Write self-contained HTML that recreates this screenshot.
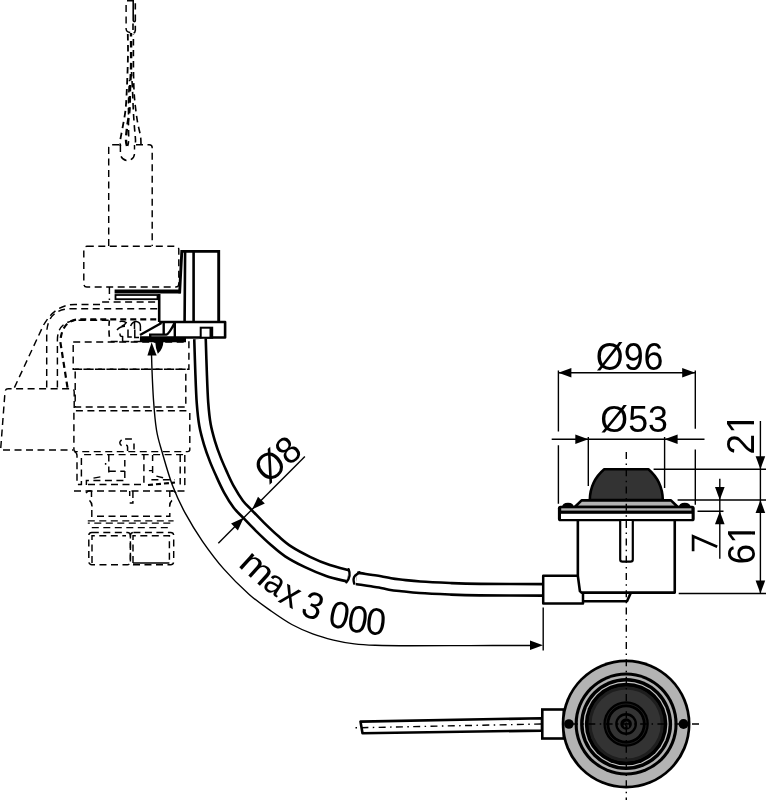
<!DOCTYPE html>
<html><head><meta charset="utf-8"><style>
html,body{margin:0;padding:0;background:#fff;}
svg{display:block;will-change:transform;}
text{font-family:"Liberation Sans",sans-serif;fill:#000;}
</style></head><body>
<svg width="766" height="800" viewBox="0 0 766 800">
<rect width="766" height="800" fill="#fff"/>
<path d="M126.1,5 V29 Q126.5,32.5 131,32.5" fill="none" stroke="#000" stroke-width="1.45" stroke-dasharray="7 4.5"/>
<path d="M133.2,1 V20.5 Q133.3,21.6 134.3,21.6 Q135.3,21.6 135.3,20.5 V14.5 M135.3,3.2 V9.5 M133,23.5 V30 M135.3,25.8 V30.5 Q135.2,32.4 133.6,33" fill="none" stroke="#000" stroke-width="1.6"/>
<path d="M127,0.5 H134" stroke="#000" stroke-width="2"/>
<path d="M127.8,34.0 C127.8,36.7 128.0,44.0 128.0,50.0 C128.0,56.0 127.8,63.3 127.6,70.0 C127.4,76.7 127.1,83.3 126.8,90.0 C126.5,96.7 126.2,103.7 125.5,110.0 C124.8,116.3 123.4,123.0 122.5,128.0 C121.6,133.0 120.7,137.0 120.3,140.0 C119.9,143.0 120.3,145.0 120.3,146.0" fill="none" stroke="#000" stroke-width="1.8" stroke-dasharray="6.5 4.5" stroke-dashoffset="0"/>
<path d="M131.0,33.0 C131.0,35.8 131.1,43.8 131.1,50.0 C131.1,56.2 131.2,63.3 131.0,70.0 C130.8,76.7 130.2,83.3 130.0,90.0 C129.8,96.7 130.0,103.7 129.5,110.0 C129.0,116.3 127.6,123.0 127.0,128.0 C126.4,133.0 126.0,137.0 126.0,140.0 C126.0,143.0 126.8,145.0 127.0,146.0" fill="none" stroke="#000" stroke-width="2.4" stroke-dasharray="6.5 4.5" stroke-dashoffset="3"/>
<path d="M133.4,34.0 C133.4,36.7 133.4,44.0 133.4,50.0 C133.4,56.0 133.4,63.3 133.5,70.0 C133.6,76.7 133.7,84.2 134.0,90.0 C134.3,95.8 134.6,99.7 135.2,105.0 C135.8,110.3 136.6,116.8 137.5,122.0 C138.4,127.2 139.9,132.2 140.5,136.0 C141.1,139.8 140.9,143.5 141.0,145.0" fill="none" stroke="#000" stroke-width="1.6" stroke-dasharray="6.5 4.5" stroke-dashoffset="6"/>
<path d="M131.5,72.0 C131.7,75.0 132.2,83.7 132.5,90.0 C132.8,96.3 133.0,103.7 133.3,110.0 C133.6,116.3 134.1,123.0 134.5,128.0 C134.9,133.0 135.4,137.0 135.5,140.0 C135.6,143.0 135.1,145.0 135.0,146.0" fill="none" stroke="#000" stroke-width="1.6" stroke-dasharray="6.5 4.5" stroke-dashoffset="2"/>
<path d="M129.5,80.0 C129.3,83.3 128.7,93.3 128.5,100.0 C128.3,106.7 128.5,113.3 128.5,120.0 C128.5,126.7 128.8,135.7 128.7,140.0 C128.5,144.3 127.8,145.0 127.6,146.0" fill="none" stroke="#000" stroke-width="1.5" stroke-dasharray="6.5 4.5" stroke-dashoffset="5"/>
<path d="M120.4,145 V153.5 A7,7 0 0 0 134.5,153.5 V145" fill="none" stroke="#000" stroke-width="1.45" stroke-dasharray="7 4.5"/>
<path d="M108.7,246 V147.7 Q108.7,144.7 111.7,144.7 H119 M136,144.7 H149.2 Q152.2,144.7 152.2,147.7 V246" fill="none" stroke="#000" stroke-width="1.45" stroke-dasharray="7 4.5"/>
<rect x="83.8" y="246.3" width="95" height="40.7" rx="3" fill="none" stroke="#000" stroke-width="1.45" stroke-dasharray="7 4.5"/>
<path d="M109.4,287 V300" fill="none" stroke="#000" stroke-width="1.45" stroke-dasharray="7 4.5"/>
<path d="M14.4,387.6 L43.1,325.9 Q55,304.4 75,304.4 H102 V302 H159" fill="none" stroke="#000" stroke-width="1.45" stroke-dasharray="7 4.5"/>
<path d="M46.7,387.6 V334.5 Q46.7,308.7 72,308.7 H159" fill="none" stroke="#000" stroke-width="1.45" stroke-dasharray="7 4.5"/>
<path d="M57.4,387.6 V340 Q57.4,320.2 80,320.2 H110" fill="none" stroke="#000" stroke-width="1.45" stroke-dasharray="7 4.5"/>
<path d="M67.5,387.6 L60.3,341.7 Q62,319.4 80,319.4 H160" fill="none" stroke="#000" stroke-width="2.2" stroke-dasharray="6 4"/>
<path d="M74.2,408 V392 Q74.2,388.8 71.2,388.8 H8.2 Q5.2,388.8 5,392 L0.6,450 H73" fill="none" stroke="#000" stroke-width="1.45" stroke-dasharray="7 4.5"/>
<rect x="73.2" y="342" width="115.7" height="27.3" fill="none" stroke="#000" stroke-width="1.45" stroke-dasharray="7 4.5"/>
<rect x="75.2" y="369.3" width="110.6" height="37.8" fill="none" stroke="#000" stroke-width="1.45" stroke-dasharray="7 4.5"/>
<rect x="73.9" y="410.7" width="115.9" height="40.9" rx="2" fill="none" stroke="#000" stroke-width="1.45" stroke-dasharray="7 4.5"/>
<path d="M74.5,451.9 Q77,452.5 77,455.5 V484.4 H81.4 V455 M84.1,454.6 H186.5" fill="none" stroke="#000" stroke-width="1.45" stroke-dasharray="7 4.5"/>
<path d="M86.4,485 V480.5 H124.8 M124.8,478.1 V460.1 M108.8,454.6 V462 H105.6 V464.8 M108.8,466.4 V472.6 M108.8,471.2 H124.8" fill="none" stroke="#000" stroke-width="1.45" stroke-dasharray="7 4.5"/>
<path d="M93.5,478.1 L104.5,476.1" fill="none" stroke="#000" stroke-width="1.45" stroke-dasharray="7 4.5"/>
<path d="M88,484.4 H143.9 V455" fill="none" stroke="#000" stroke-width="1.45" stroke-dasharray="7 4.5"/>
<path d="M152.6,455 V461 M152.6,466 V473 M148.9,470.6 H152.6 M156.4,476.1 L163.1,477.7 M151.4,479.8 H174.8" fill="none" stroke="#000" stroke-width="1.45" stroke-dasharray="7 4.5"/>
<path d="M148,485 L175,482.5" fill="none" stroke="#000" stroke-width="2.2" stroke-dasharray="5 3"/>
<path d="M180.2,455 V484.4 M184.8,455 V484.4 Q185,487 187,488" fill="none" stroke="#000" stroke-width="1.45" stroke-dasharray="7 4.5"/>
<path d="M121.6,439.8 Q118,442.7 121.6,445.7 M125.1,439.1 H131.9 M126.2,445 Q127.6,445.5 127.6,447 V451 M134,443.4 V449.4" fill="none" stroke="#000" stroke-width="1.5"/>
<path d="M74,491 H186" fill="none" stroke="#000" stroke-width="1.45" stroke-dasharray="7 4.5"/>
<path d="M86,493 Q88,490 91.5,491 M91.5,491 V497 M89.5,500.4 Q92.5,503 92,508.6 M91.8,510 V516.3 H169.8 V510 M169.8,491 V497 M172,500.4 Q169,503 169.8,508.6 M171,491 Q174,490 176,493" fill="none" stroke="#000" stroke-width="1.45" stroke-dasharray="7 4.5"/>
<path d="M129.7,491 V496 M132.9,491 V499.5 M129.7,503 H132.9 V501" fill="none" stroke="#000" stroke-width="1.45" stroke-dasharray="7 4.5"/>
<path d="M87.8,520.8 H173.6" fill="none" stroke="#000" stroke-width="1.3" stroke-dasharray="7 4.5"/>
<path d="M87.8,523.2 H173.6" fill="none" stroke="#000" stroke-width="1.3" stroke-dasharray="7 4.5" stroke-dashoffset="5"/>
<path d="M91.8,527.6 H169.8" fill="none" stroke="#000" stroke-width="1.45" stroke-dasharray="7 4.5"/>
<rect x="88.8" y="532.4" width="41.6" height="32.3" rx="3" fill="none" stroke="#000" stroke-width="1.45" stroke-dasharray="7 4.5"/>
<rect x="130.4" y="532.4" width="43.3" height="32.3" rx="3" fill="none" stroke="#000" stroke-width="1.45" stroke-dasharray="7 4.5"/>
<path d="M92,563 V535.8 H126 M133,563 V535.8 H169.4 V563" fill="none" stroke="#000" stroke-width="1.45" stroke-dasharray="7 4.5"/>
<path d="M133,563 H169.4" fill="none" stroke="#000" stroke-width="1.4"/>
<path d="M114.6,291.5 H180.6" fill="none" stroke="#000" stroke-width="3.8"/>
<path d="M179.6,293.3 L181.8,251.4 H218.7 V322" fill="none" stroke="#000" stroke-width="2.9" stroke-linejoin="miter"/>
<path d="M185.1,252 L184.6,322 M193.6,252 V322" fill="none" stroke="#000" stroke-width="2.6" stroke-linejoin="round"/>
<rect x="115.5" y="295" width="42" height="4.2" fill="#fff" stroke="#000" stroke-width="1.8"/>
<path d="M159.2,294 V322" fill="none" stroke="#000" stroke-width="2.6" stroke-linejoin="round"/>
<path d="M159.2,322 H225.1 V337.5 H140" fill="none" stroke="#000" stroke-width="2.6" stroke-linejoin="round"/>
<path d="M139.9,339.8 H186" stroke="#000" stroke-width="4.8"/>
<path d="M140,335 L161.5,323 M150.2,337 V334.6 H166.3 Q169,334 174.4,323.2 M163.7,323 V333.7 M174.8,322 V337" fill="none" stroke="#000" stroke-width="2.4"/>
<rect x="200.7" y="327.7" width="11.5" height="10" fill="#fff" stroke="#000" stroke-width="2"/>
<path d="M211,328 V337" stroke="#000" stroke-width="3"/>
<path d="M117,330 Q120,326.5 125,326.3 M119.6,321.6 Q123,320.6 126.2,322.6 Q124.5,325.5 121.5,326.2 M130.6,326 Q132.5,321.5 136.5,321.6 Q140.3,322.4 140.4,326 V331 M134.5,322.5 V329 M120.2,333.5 Q119.3,336.4 122.6,336.6 V341 M128,329.5 V337 H131.8 M134.8,329.5 V337.5 H139" fill="none" stroke="#000" stroke-width="1.5"/>
<path d="M109.4,320.3 Q108.5,328 109.4,337.5" fill="none" stroke="#000" stroke-width="1.6" stroke-dasharray="6 4.5"/>
<path d="M110.7,341.4 H140" fill="none" stroke="#000" stroke-width="1.45" stroke-dasharray="7 4.5"/>
<path d="M155.2,341.5 H163.4 Q163.2,349 157.8,353.8 Q155.5,348 155.2,341.5 Z" fill="#000"/>
<path d="M200.0,339.0 C200.2,344.2 200.6,359.3 201.0,370.0 C201.4,380.7 201.8,393.8 202.5,403.0 C203.2,412.2 203.8,418.3 205.0,425.0 C206.2,431.7 207.8,437.2 209.5,443.0 C211.2,448.8 213.4,454.7 215.5,460.0 C217.6,465.3 219.8,470.1 222.0,475.0 C224.2,479.9 226.3,484.6 229.0,489.5 C231.7,494.4 235.2,500.1 238.3,504.2 C241.4,508.3 243.9,510.2 247.5,514.0 C251.1,517.8 255.4,522.3 259.9,526.7 C264.4,531.1 269.8,536.3 274.5,540.4 C279.2,544.5 282.8,547.9 288.3,551.5 C293.8,555.1 300.9,558.8 307.5,562.0 C314.1,565.2 321.3,568.2 328.0,570.5 C334.7,572.8 344.5,574.9 347.8,575.8" fill="none" stroke="#000" stroke-width="14.1"/>
<path d="M356.5,578.3 C358.8,578.6 366.1,579.8 370.0,580.4 C373.9,581.0 376.7,581.3 380.0,581.9 C383.3,582.5 386.7,583.4 390.0,584.0 C393.3,584.6 395.0,584.8 400.0,585.3 C405.0,585.8 411.7,586.7 420.0,587.3 C428.3,587.9 440.0,588.4 450.0,588.8 C460.0,589.2 464.5,589.4 480.0,589.6 C495.5,589.8 532.5,589.9 543.0,589.9" fill="none" stroke="#000" stroke-width="14.1"/>
<path d="M200.0,339.0 C200.2,344.2 200.6,359.3 201.0,370.0 C201.4,380.7 201.8,393.8 202.5,403.0 C203.2,412.2 203.8,418.3 205.0,425.0 C206.2,431.7 207.8,437.2 209.5,443.0 C211.2,448.8 213.4,454.7 215.5,460.0 C217.6,465.3 219.8,470.1 222.0,475.0 C224.2,479.9 226.3,484.6 229.0,489.5 C231.7,494.4 235.2,500.1 238.3,504.2 C241.4,508.3 243.9,510.2 247.5,514.0 C251.1,517.8 255.4,522.3 259.9,526.7 C264.4,531.1 269.8,536.3 274.5,540.4 C279.2,544.5 282.8,547.9 288.3,551.5 C293.8,555.1 300.9,558.8 307.5,562.0 C314.1,565.2 321.3,568.2 328.0,570.5 C334.7,572.8 344.5,574.9 347.8,575.8" fill="none" stroke="#fff" stroke-width="8.9"/>
<path d="M356.5,578.3 C358.8,578.6 366.1,579.8 370.0,580.4 C373.9,581.0 376.7,581.3 380.0,581.9 C383.3,582.5 386.7,583.4 390.0,584.0 C393.3,584.6 395.0,584.8 400.0,585.3 C405.0,585.8 411.7,586.7 420.0,587.3 C428.3,587.9 440.0,588.4 450.0,588.8 C460.0,589.2 464.5,589.4 480.0,589.6 C495.5,589.8 532.5,589.9 543.0,589.9" fill="none" stroke="#fff" stroke-width="8.9"/>
<path d="M348.6,569.2 Q351.5,576 346.4,582.2" fill="none" stroke="#000" stroke-width="2.4" stroke-linecap="round"/>
<path d="M359.5,572.2 L355,575.8 Q352.6,578.5 354.2,583.6" fill="none" stroke="#000" stroke-width="2.4" stroke-linecap="round" stroke-linejoin="round"/>
<path d="M151.5,354.0 C151.6,356.7 151.7,362.3 152.0,370.0 C152.3,377.7 152.8,390.0 153.5,400.0 C154.2,410.0 155.1,421.3 156.5,430.0 C157.9,438.7 159.4,442.8 162.1,452.1 C164.8,461.5 168.8,475.8 172.7,486.1 C176.6,496.4 180.5,504.5 185.5,513.7 C190.5,522.9 196.1,532.1 202.5,541.3 C208.9,550.5 215.9,560.0 223.7,568.9 C231.5,577.8 241.3,587.4 249.2,594.4 C257.1,601.4 263.8,605.9 270.9,610.9 C278.0,615.9 284.8,620.7 291.8,624.5 C298.8,628.3 305.8,631.3 312.7,633.9 C319.6,636.5 326.6,638.4 333.5,640.1 C340.4,641.8 347.4,643.0 354.4,643.9 C361.4,644.8 366.0,645.0 375.3,645.3 C384.6,645.6 394.2,645.7 410.0,645.7 C425.8,645.8 449.8,645.6 470.0,645.6 C490.2,645.6 520.8,645.5 531.0,645.5" fill="none" stroke="#000" stroke-width="1.4"/>
<path d="M151.6,342.2 L156.6,355.4 L147.4,355.6 Z" fill="#000"/>
<path d="M543.0,645.3 L530.0,650.1 L530.0,640.5 Z" fill="#000"/>
<path d="M543.2,607.4 V650.5" fill="none" stroke="#000" stroke-width="1.4"/>
<g transform="translate(237.27,565.41) rotate(42.00) scale(0.3970,0.3620)"><text font-size="100">m</text></g>
<g transform="translate(261.62,587.62) rotate(33.00) scale(0.3300,0.3450)"><text font-size="100">a</text></g>
<g transform="translate(277.17,601.18) rotate(27.00) scale(0.3580,0.3800)"><text font-size="100">x</text></g>
<g transform="translate(299.30,614.43) rotate(20.00) scale(0.3580,0.3800)"><text font-size="100">3</text></g>
<g transform="translate(327.03,625.73) rotate(12.00) scale(0.3580,0.3800)"><text font-size="100">0</text></g>
<g transform="translate(345.92,630.67) rotate(9.00) scale(0.3580,0.3800)"><text font-size="100">0</text></g>
<g transform="translate(364.74,633.38) rotate(6.00) scale(0.3580,0.3800)"><text font-size="100">0</text></g>
<path d="M218.3,543.2 L304.9,456.5" fill="none" stroke="#000" stroke-width="1.4"/>
<path d="M252.2,509.3 L258.0,496.7 L264.8,503.5 Z" fill="#000"/>
<path d="M243.7,517.8 L237.9,530.4 L231.1,523.6 Z" fill="#000"/>
<g transform="translate(268.06,484.86) rotate(-41.00) scale(0.3580,0.3800)"><text font-size="100">Ø8</text></g>
<path d="M589.8,500 C590,487 595,477 604.2,469.2 H648.4 C657.6,477 662.6,487 662.8,500 Z" fill="#333" stroke="#000" stroke-width="2.6" stroke-linejoin="round"/>
<path d="M581.6,500.4 H671 L677.8,507 H574.8 Z" fill="#b3b3b3" stroke="#000" stroke-width="2.6" stroke-linejoin="round"/>
<rect x="557.9" y="505.7" width="136.8" height="15.6" rx="2.6" fill="#000"/>
<rect x="561.2" y="508.3" width="130.2" height="2.3" fill="#b3b3b3"/>
<rect x="561" y="513.8" width="130.6" height="5.2" fill="#fff"/>
<path d="M562,507.5 Q562,502.8 568,502.8 Q573.8,502.8 573.8,507.5 Z" fill="#000"/>
<path d="M678.8,507.5 Q678.8,502.8 684.7,502.8 Q690.6,502.8 690.6,507.5 Z" fill="#000"/>
<path d="M577.85,575.8 H543.2 V603.4 H583 V592.6" fill="#fff" stroke="#000" stroke-width="2.5" stroke-linejoin="round"/>
<path d="M577.85,521 V575.8 L579.9,591.1 L581.5,592.6 H674.75 V521" fill="none" stroke="#000" stroke-width="2.6" stroke-linejoin="round"/>
<path d="M620.2,521 V559.5 Q620.2,561.7 622.5,561.7 H630.5 Q632.8,561.7 632.8,559.5 V521" fill="#fff" stroke="#000" stroke-width="2.2"/>
<path d="M583.5,601.3 H627 L631,592.4" fill="none" stroke="#000" stroke-width="2.6" stroke-linejoin="round"/>
<path d="M558.4,370.6 V431.4 M558.4,445.2 V503.8 M695.3,370.6 V428.8 M695.3,449.4 V504.8" fill="none" stroke="#000" stroke-width="1.4"/>
<path d="M558.4,372.8 H695.2" fill="none" stroke="#000" stroke-width="1.4"/>
<path d="M558.4,372.8 L571.4,368.0 L571.4,377.6 Z" fill="#000"/>
<path d="M695.2,372.8 L682.2,377.6 L682.2,368.0 Z" fill="#000"/>
<g transform="translate(595.87,369.50) rotate(0.00) scale(0.3580,0.3814)"><text font-size="100">Ø96</text></g>
<path d="M551.7,439.3 H704.5" fill="none" stroke="#000" stroke-width="1.4"/>
<path d="M588.3,439.3 L575.3,444.1 L575.3,434.5 Z" fill="#000"/>
<path d="M664.6,439.3 L677.6,434.5 L677.6,444.1 Z" fill="#000"/>
<path d="M588.3,437 V486 M664.6,437 V488" fill="none" stroke="#000" stroke-width="1.4"/>
<g transform="translate(600.37,432.40) rotate(0.00) scale(0.3575,0.3771)"><text font-size="100">Ø53</text></g>
<path d="M653.6,469.2 H766 M677.6,500 H766 M697.5,511.2 H723.5 M678.7,593.5 H766" fill="none" stroke="#000" stroke-width="1.4"/>
<path d="M760.4,421 V593.5" fill="none" stroke="#000" stroke-width="1.4"/>
<path d="M760.4,469.2 L755.6,456.2 L765.2,456.2 Z" fill="#000"/>
<path d="M760.4,500.0 L765.2,513.0 L755.6,513.0 Z" fill="#000"/>
<path d="M760.4,593.5 L755.6,580.5 L765.2,580.5 Z" fill="#000"/>
<path d="M719.8,478.8 V558.8" fill="none" stroke="#000" stroke-width="1.4"/>
<path d="M719.8,500.0 L715.0,487.0 L724.6,487.0 Z" fill="#000"/>
<path d="M719.8,511.2 L724.6,524.2 L715.0,524.2 Z" fill="#000"/>
<path d="M693.1,551.2 V536.3 L717.2,546.8" fill="none" stroke="#000" stroke-width="2.7" stroke-linejoin="miter"/>
<g transform="translate(754.90,564.45) rotate(-90.00) scale(0.3700,0.3800)"><text font-size="100">61</text><rect x="61.5" y="-9" width="19.2" height="10" fill="#fff"/><rect x="89.5" y="-9" width="19" height="10" fill="#fff"/></g>
<g transform="translate(754.40,454.68) rotate(-90.00) scale(0.3759,0.3800)"><text font-size="100">21</text><rect x="61.5" y="-9" width="19.2" height="10" fill="#fff"/><rect x="89.5" y="-9" width="19" height="10" fill="#fff"/></g>
<path d="M360.5,721.6 L542,718.2 V730.6 L362.5,733.2 Z" fill="#fff" stroke="#000" stroke-width="2.6" stroke-linejoin="round"/>
<rect x="542.3" y="709.5" width="21.5" height="29" fill="#fff" stroke="#000" stroke-width="2.6"/>
<circle cx="626.1" cy="724" r="64.4" fill="#000"/>
<circle cx="626.1" cy="724" r="61.7" fill="#b3b3b3"/>
<circle cx="626.1" cy="724" r="51.5" fill="#000"/>
<circle cx="626.1" cy="724" r="48.4" fill="#b3b3b3"/>
<circle cx="626.1" cy="724" r="46" fill="#000"/>
<circle cx="626.1" cy="724" r="42.6" fill="#c4c4c4"/>
<circle cx="626.1" cy="724" r="41.3" fill="#000"/>
<circle cx="626.1" cy="724" r="37.8" fill="#1e1e1e"/>
<circle cx="626.1" cy="724" r="34.6" fill="#333"/>
<circle cx="626.1" cy="724" r="22.7" fill="#000"/>
<circle cx="626.1" cy="724" r="16.8" fill="#333"/>
<circle cx="626.1" cy="724" r="10.9" fill="#000"/>
<circle cx="626.1" cy="724" r="8.6" fill="#333"/>
<circle cx="626.1" cy="724" r="5.8" fill="#000"/>
<circle cx="626.1" cy="724" r="20" fill="none" stroke="#262626" stroke-width="0.8"/>
<circle cx="626.1" cy="724" r="38.6" fill="none" stroke="#000" stroke-width="1"/>
<path d="M628.3,722.7 A2.5,2.5 0 1 0 625.3,726.8 M626.2,724.6 H628.2 V727.6" fill="none" stroke="#333" stroke-width="1.5"/>
<circle cx="568.9" cy="724" r="4.8" fill="#000"/>
<circle cx="683.5" cy="724" r="4.9" fill="#000"/>
<path d="M355.5,727.8 L542,724" fill="none" stroke="#000" stroke-width="1.4" stroke-dasharray="7 4.4 1.5 4.38" stroke-dashoffset="11.4"/>
<path d="M563,724 H702" fill="none" stroke="#000" stroke-width="1.4" stroke-dasharray="7 4.4 1.5 4.38" stroke-dashoffset="9.24"/>
<path d="M626.3,452 V800" fill="none" stroke="#000" stroke-width="1.4" stroke-dasharray="7 4.4 1.5 4.38"/>
</svg>
</body></html>
